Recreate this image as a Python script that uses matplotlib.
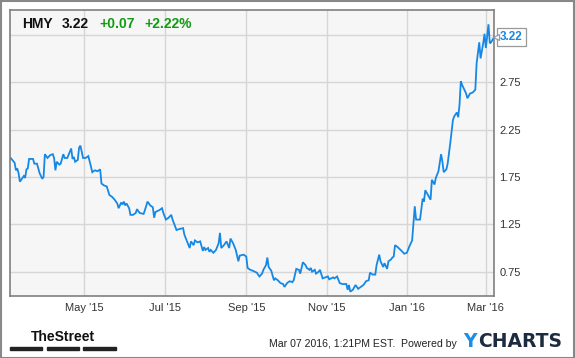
import numpy as np
import pandas as pd
import matplotlib
matplotlib.use("Agg")
import matplotlib.pyplot as plt
import matplotlib.dates as mdates
from matplotlib.patches import Rectangle

plt.rcParams['font.family'] = ['Liberation Sans', 'DejaVu Sans']

# HMY daily price (days counted from 2015-03-06)
start_date = "2015-03-06"
days = [0, 3, 4, 5, 6, 7, 9, 10, 11, 12, 13, 14, 17, 18, 20, 22, 24, 25, 26, 28,
        30, 32, 33, 34, 35, 37, 38, 40, 41, 43, 46, 47, 48, 49, 51, 52, 53, 55, 57, 59,
        61, 62, 64, 66, 68, 69, 71, 73, 75, 77, 79, 81, 82, 84, 85, 86, 87, 88, 90, 91,
        93, 95, 96, 98, 101, 102, 104, 106, 108, 109, 110, 113, 115, 116, 118, 120, 122, 123, 126, 128,
        131, 132, 134, 136, 137, 139, 140, 142, 144, 146, 147, 148, 150, 151, 152, 154, 156, 158, 159, 160,
        162, 164, 166, 167, 169, 171, 173, 174, 177, 179, 180, 182, 184, 187, 189, 191, 192, 194, 195, 196,
        198, 200, 201, 203, 205, 207, 208, 210, 212, 214, 215, 217, 219, 220, 222, 224, 225, 227, 228, 229,
        231, 232, 234, 235, 237, 239, 241, 242, 245, 246, 248, 250, 252, 255, 256, 257, 258, 260, 262, 264,
        266, 268, 270, 272, 273, 275, 277, 278, 280, 281, 283, 284, 286, 287, 289, 290, 291, 292, 294, 297,
        299, 301, 303, 305, 306, 307, 308, 311, 313, 314, 315, 317, 319, 320, 322, 323, 325, 327, 328, 329,
        331, 332, 334, 336, 337, 339, 340, 341, 342, 343, 346, 347, 349, 351, 353, 354, 356, 357, 359, 360,
        361, 363, 364, 365, 367]
price = [1.95, 1.90, 1.82, 1.84, 1.79, 1.70, 1.74, 1.76, 1.74, 1.83, 1.84, 1.94, 1.94, 1.89, 1.89, 1.79, 1.73, 1.75, 1.99, 1.95,
         1.98, 1.99, 1.95, 1.82, 1.91, 1.88, 1.89, 1.99, 1.95, 1.95, 2.05, 1.94, 1.96, 1.91, 1.93, 2.06, 2.08, 1.95, 1.95, 1.97,
         1.86, 1.80, 1.82, 1.81, 1.83, 1.68, 1.66, 1.65, 1.56, 1.54, 1.51, 1.47, 1.42, 1.48, 1.46, 1.49, 1.45, 1.47, 1.42, 1.35,
         1.35, 1.37, 1.41, 1.37, 1.36, 1.40, 1.49, 1.45, 1.43, 1.32, 1.38, 1.40, 1.42, 1.37, 1.30, 1.32, 1.35, 1.30, 1.19, 1.20,
         1.21, 1.14, 1.07, 1.00, 1.07, 1.03, 1.08, 1.06, 1.07, 0.97, 1.01, 0.98, 1.00, 0.96, 0.98, 0.95, 0.98, 1.05, 1.16, 1.00,
         1.03, 1.07, 1.00, 1.10, 1.05, 0.98, 0.86, 0.92, 0.93, 0.91, 0.79, 0.77, 0.76, 0.74, 0.70, 0.73, 0.77, 0.82, 0.90, 0.80,
         0.76, 0.66, 0.68, 0.66, 0.63, 0.62, 0.59, 0.63, 0.65, 0.64, 0.66, 0.78, 0.77, 0.73, 0.85, 0.82, 0.79, 0.77, 0.79, 0.75,
         0.77, 0.73, 0.75, 0.77, 0.68, 0.69, 0.70, 0.67, 0.69, 0.68, 0.70, 0.63, 0.62, 0.62, 0.56, 0.61, 0.54, 0.56, 0.61, 0.57,
         0.59, 0.61, 0.65, 0.66, 0.74, 0.72, 0.72, 0.82, 0.93, 0.86, 0.80, 0.84, 0.78, 0.86, 0.88, 0.90, 0.91, 1.03, 1.01, 0.97,
         0.94, 0.95, 1.02, 1.08, 1.26, 1.44, 1.30, 1.30, 1.52, 1.49, 1.61, 1.56, 1.51, 1.72, 1.67, 1.74, 1.81, 1.99, 1.91, 1.80,
         1.83, 1.89, 2.11, 2.35, 2.39, 2.43, 2.38, 2.51, 2.76, 2.72, 2.63, 2.58, 2.63, 2.64, 2.67, 2.95, 3.17, 3.00, 3.16, 3.26,
         3.11, 3.36, 3.16, 3.17, 3.22]

ticker = "HMY"
last_price = "3.22"
change = "+0.07"
change_pct = "+2.22%"
ytick_values = [0.75, 1.25, 1.75, 2.25, 2.75, 3.25]
ytick_labels = ["0.75", "1.25", "1.75", "2.25", "2.75", ""]
stamp = "Mar 07 2016, 1:21PM EST.  Powered by"

W, H = 575, 358
LINE = "#1588e6"
GREEN = "#129a12"

dates = pd.Timestamp(start_date) + pd.to_timedelta(days, unit="D")

fig = plt.figure(figsize=(W / 100, H / 100), dpi=100)
fig.patch.set_facecolor("white")


def fx(px):
    return px / W


def fy(py):
    return 1 - py / H


ax = fig.add_axes([fx(10), fy(296), fx(494) - fx(10), fy(10) - fy(296)])
ax.set_facecolor("#f6f6f6")
ax.plot(dates, price, color=LINE, lw=1.3, solid_joinstyle="miter")

ax.set_xlim(pd.Timestamp(start_date) - pd.Timedelta(days=0.5),
            pd.Timestamp(start_date) + pd.Timedelta(days=367.2))
ax.set_ylim(0.494, 3.511)

ax.xaxis.set_major_locator(mdates.MonthLocator(bymonth=[1, 3, 5, 7, 9, 11]))
ax.xaxis.set_major_formatter(mdates.DateFormatter("%b '%y"))
ax.set_yticks(ytick_values)
ax.set_yticklabels(ytick_labels)
ax.yaxis.tick_right()
ax.tick_params(axis="both", length=0, labelsize=8, labelcolor="#333333")
ax.tick_params(axis="x", pad=5)
ax.tick_params(axis="y", pad=4)
ax.grid(True, color="#d6d6d6", lw=1.0)
ax.set_axisbelow(True)
for s in ax.spines.values():
    s.set_color("#808080")
    s.set_linewidth(1.2)

# last price marker on the right
ax.annotate(last_price, xy=(dates[-1], price[-1]), xycoords="data",
            xytext=(fx(500), fy(37)), textcoords="figure fraction",
            ha="left", va="center", fontsize=8.5, fontweight="bold", color=LINE,
            bbox=dict(boxstyle="square,pad=0.25", fc="white", ec="#999999", lw=0.9),
            annotation_clip=False)
fig.lines.append(plt.Line2D([fx(496)], [fy(37)], marker="<", ms=5, mfc="white",
                            mec="#999999", mew=0.9, transform=fig.transFigure))

# header
fig.text(fx(22), fy(28), ticker, fontsize=10, fontweight="bold", color="#111111", va="baseline")
fig.text(fx(62), fy(28), last_price, fontsize=10, fontweight="bold", color="#111111", va="baseline")
fig.text(fx(99), fy(28), change, fontsize=10, fontweight="bold", color=GREEN, va="baseline")
fig.text(fx(144), fy(28), change_pct, fontsize=10, fontweight="bold", color=GREEN, va="baseline")

# footer
fig.text(fx(63), fy(341), "TheStreet", fontsize=10, fontweight="bold", color="#111111",
         ha="center", va="baseline")
for x0, x1 in [(10, 42), (47, 79), (83, 116)]:
    fig.patches.append(Rectangle((fx(x0), fy(349.5)), fx(x1) - fx(x0), 3 / H,
                                 transform=fig.transFigure, color="#222222"))
fig.text(fx(269), fy(347), stamp, fontsize=7.6, color="#222222", va="baseline")
fig.text(fx(463), fy(347), "Y", fontsize=13.5, fontweight="bold", color="#1a8fe3",
         family="DejaVu Sans", va="baseline")
fig.text(fx(478), fy(347), "CHARTS", fontsize=13.5, fontweight="bold", color="#1c2b3f",
         family="DejaVu Sans", va="baseline")

# outer frame
fig.patches.append(Rectangle((0.5 / W, 0.5 / H), 1 - 1.5 / W, 1 - 1.5 / H, transform=fig.transFigure,
                             fill=False, ec="#888888", lw=1.5))

fig.savefig("out.png", dpi=100)
